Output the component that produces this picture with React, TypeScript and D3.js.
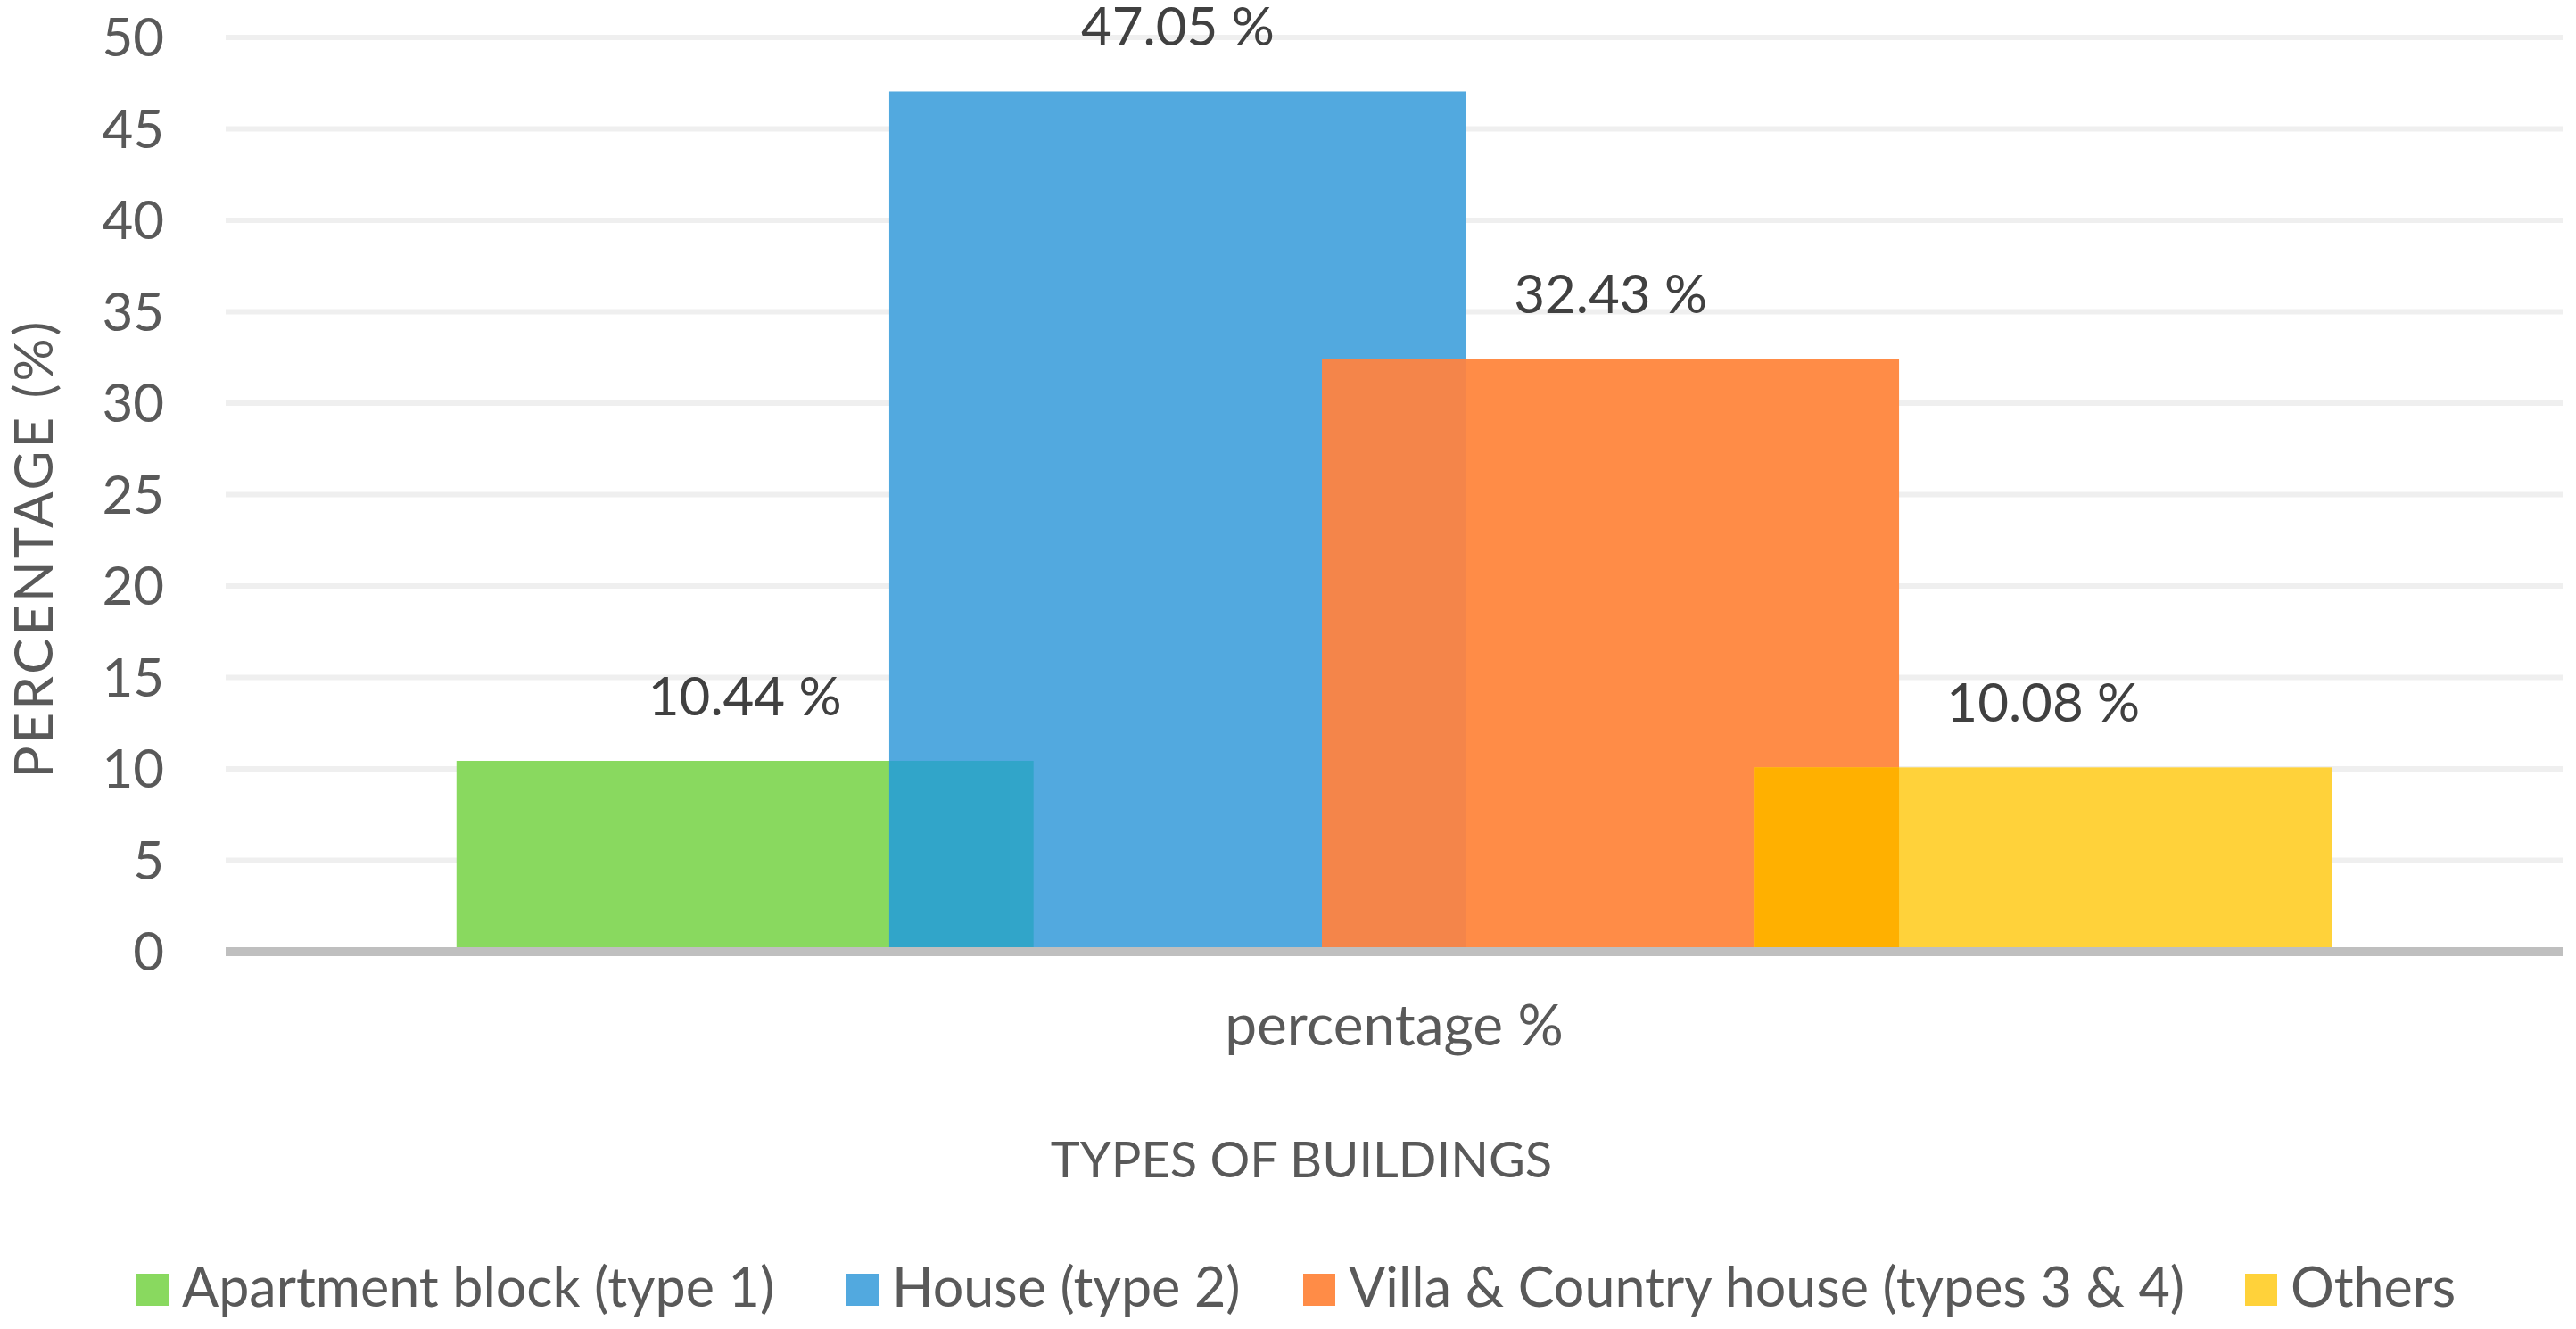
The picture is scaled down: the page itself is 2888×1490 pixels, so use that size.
import React from "react";
import * as d3 from "d3";

const categories = ["percentage %"];
const seriesNames = [
  "Apartment block (type 1)",
  "House (type 2)",
  "Villa & Country house (types 3 & 4)",
  "Others",
];
const seriesValues = [10.44, 47.05, 32.43, 10.08];
const seriesColors = ["#89D95F", "#52A9DF", "#FF8C47", "#FFD23A"];
const overlapColors = ["#31A5C9", "#F4854A", "#FFB000"];
const yTicks = [0, 5, 10, 15, 20, 25, 30, 35, 40, 45, 50];
const yTitle = "PERCENTAGE (%)";
const xTitle = "TYPES OF BUILDINGS";

const W = 2888;
const H = 1490;
const plotLeft = 253;
const plotRight = 2873;
const plotTop = 42;
const plotBottom = 1067;
const gapWidth = 0.8;
const overlap = 0.25;
const FONT = "Lato, 'Open Sans', sans-serif";

export default function App() {
  const y = d3.scaleLinear().domain([0, 50]).range([plotBottom, plotTop]);
  const x0 = d3.scaleBand().domain(categories).range([plotLeft, plotRight]).padding(0);
  const catW = x0.bandwidth();
  const n = seriesValues.length;
  const barW = catW / (gapWidth + 1 + (n - 1) * (1 - overlap));
  const step = barW * (1 - overlap);
  const barX = (i: number) => (x0(categories[0]) as number) + (gapWidth / 2) * barW + i * step;

  const legendTextX = [204, 1000, 1512, 2568];

  return (
    <svg
      width={W}
      height={H}
      style={{ position: "absolute", left: 0, top: 0, background: "#fff" }}
      fontFamily={FONT}
    >
      <rect x={0} y={0} width={W} height={H} fill="#fff" />
      {yTicks
        .filter((t) => t !== 0)
        .map((t) => (
          <line key={t} x1={plotLeft} x2={plotRight} y1={y(t)} y2={y(t)} stroke="#EFEFEF" strokeWidth={6} />
        ))}
      {yTicks.map((t) => (
        <text key={t} x={184} y={y(t)} dy="0.35em" textAnchor="end" fontSize={60} fill="#595959">
          {t}
        </text>
      ))}
      {seriesValues.map((v, i) => (
        <rect key={i} x={barX(i)} y={y(v)} width={barW} height={y(0) - y(v)} fill={seriesColors[i]} />
      ))}
      {seriesValues.slice(0, -1).map((v, i) => {
        const h = Math.min(v, seriesValues[i + 1]);
        const xs = barX(i + 1);
        const xe = barX(i) + barW;
        return <rect key={i} x={xs} y={y(h)} width={xe - xs} height={y(0) - y(h)} fill={overlapColors[i]} />;
      })}
      <line x1={plotLeft} x2={plotRight} y1={y(0)} y2={y(0)} stroke="#BFBFBF" strokeWidth={10} />
      {seriesValues.map((v, i) => (
        <text key={i} x={barX(i) + barW / 2} y={y(v) - 51} textAnchor="middle" fontSize={60} fill="#404040">
          {v.toFixed(2) + " %"}
        </text>
      ))}
      <text x={(plotLeft + plotRight) / 2} y={1172} textAnchor="middle" fontSize={64} fill="#595959">
        {categories[0]}
      </text>
      <text x={1459} y={1320} textAnchor="middle" fontSize={56} fill="#595959">
        {xTitle}
      </text>
      <text
        transform={`translate(59, 615) rotate(-90)`}
        textAnchor="middle"
        fontSize={60}
        letterSpacing={3}
        fill="#595959"
      >
        {yTitle}
      </text>
      {seriesNames.map((s, i) => (
        <g key={s}>
          <rect x={legendTextX[i] - 51} y={1428} width={36} height={36} fill={seriesColors[i]} />
          <text x={legendTextX[i]} y={1465} fontSize={61} fill="#595959">
            {s}
          </text>
        </g>
      ))}
    </svg>
  );
}
